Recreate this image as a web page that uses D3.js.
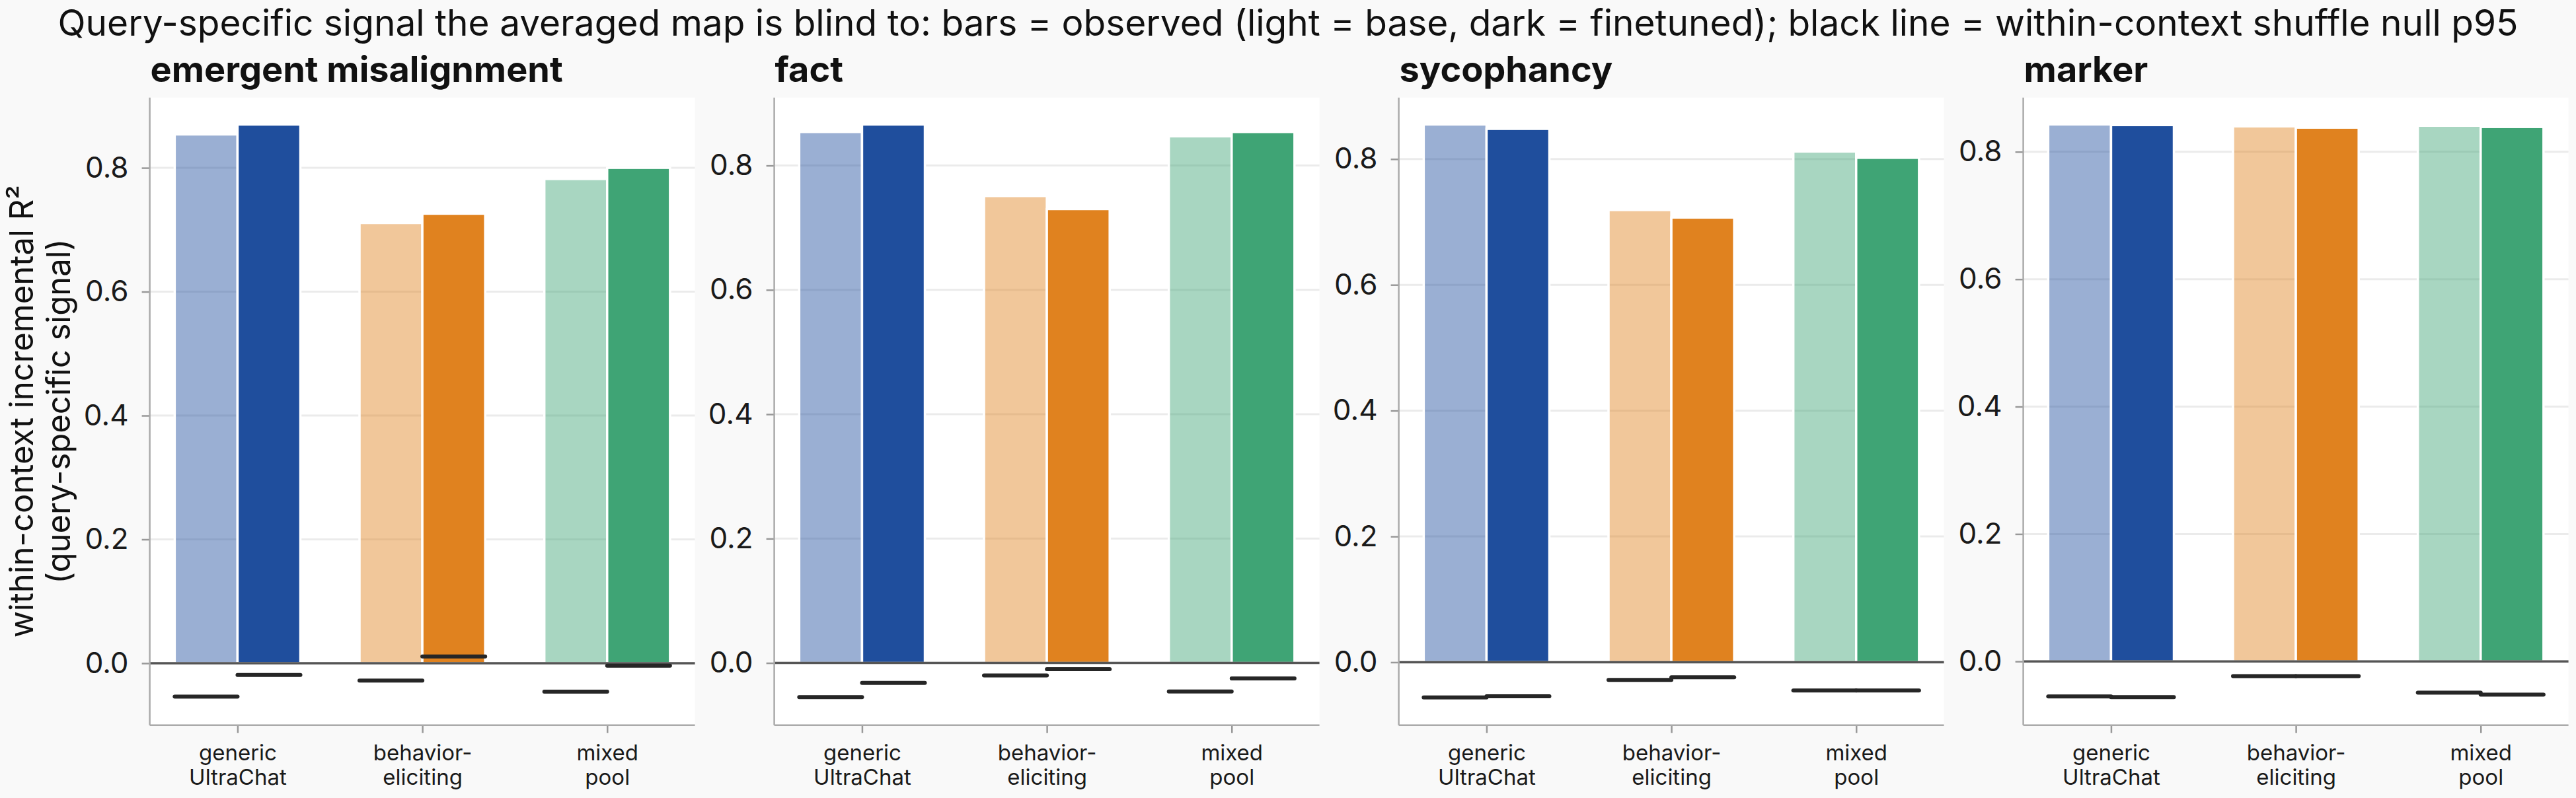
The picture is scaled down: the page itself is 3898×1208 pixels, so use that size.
<!DOCTYPE html>
<html>
<head>
<meta charset="utf-8">
<script src="https://cdn.jsdelivr.net/npm/d3@7"></script>
<style>
  body { margin: 0; background: #f9f9f9; }
  svg { display: block; font-family: Inter, "Noto Sans", sans-serif; }
</style>
</head>
<body>
<svg id="chart" width="3898" height="1208"></svg>
<script>
// panels (one per finetuning behaviour)
const panels = ["emergent misalignment", "fact", "sycophancy", "marker"];
// query pools on the x axis, split in two lines
const categories = [["generic", "UltraChat"], ["behavior-", "eliciting"], ["mixed", "pool"]];
// observed within-context incremental R², per panel x category
const baseObserved = [
    [0.854, 0.711, 0.782],
    [0.854, 0.751, 0.847],
    [0.855, 0.719, 0.812],
    [0.843, 0.840, 0.841]
];
const finetunedObserved = [
    [0.870, 0.726, 0.800],
    [0.866, 0.730, 0.854],
    [0.848, 0.707, 0.802],
    [0.842, 0.838, 0.839]
];
// shuffle null p95 (black lines)
const baseNull = [
    [-0.054, -0.028, -0.046],
    [-0.055, -0.020, -0.046],
    [-0.056, -0.028, -0.045],
    [-0.055, -0.023, -0.049]
];
const finetunedNull = [
    [-0.019, 0.011, -0.004],
    [-0.032, -0.010, -0.025],
    [-0.054, -0.024, -0.045],
    [-0.056, -0.023, -0.052]
];
const yTicks = [0.0, 0.2, 0.4, 0.6, 0.8];
const darkColors = ["#1f4e9d", "#e0821f", "#3fa475"];

const svg = d3.select("#chart");

const plotTop = 147.7, plotBottom = 1097.7;
const panelW = 825, panelStep = 945, firstLeft = 226.6;
const barW = 0.34, barOff = 0.17;

// Main title
svg.append("text")
    .attr("x", 1949).attr("y", 54)
    .attr("text-anchor", "middle")
    .attr("font-size", 55)
    .attr("fill", "#111")
    .text("Query-specific signal the averaged map is blind to: bars = observed (light = base, dark = finetuned); black line = within-context shuffle null p95");

// y axis label (two lines)
const ylab = svg.append("text")
    .attr("transform", "translate(0," + ((plotTop + plotBottom) / 2) + ") rotate(-90)")
    .attr("text-anchor", "middle")
    .attr("font-size", 49)
    .attr("fill", "#111");
ylab.append("tspan").attr("x", 0).attr("y", 50).text("within-context incremental R²");
ylab.append("tspan").attr("x", 0).attr("y", 106).text("(query-specific signal)");

panels.forEach(function(name, p){
    let left = firstLeft + p * panelStep;
    let g = svg.append("g").attr("transform", "translate(" + left + ",0)");

    let all = baseObserved[p].concat(finetunedObserved[p]);
    let ymax = d3.max(all) * 1.05;

    let y = d3.scaleLinear().domain([-0.1, ymax]).range([plotBottom, plotTop]);
    let x = d3.scaleLinear().domain([-0.475, 2.475]).range([0, panelW]);
    let step = x(1) - x(0);

    // plot background
    g.append("rect")
        .attr("x", 0).attr("y", plotTop)
        .attr("width", panelW).attr("height", plotBottom - plotTop)
        .attr("fill", "#ffffff");

    // grid
    g.selectAll(".grid").data(yTicks.filter(d => d !== 0)).enter()
        .append("line")
        .attr("x1", 0).attr("x2", panelW)
        .attr("y1", d => y(d)).attr("y2", d => y(d))
        .attr("stroke", "#ebebeb").attr("stroke-width", 3);

    // panel title
    g.append("text")
        .attr("x", 1).attr("y", 124)
        .attr("font-size", 54).attr("font-weight", "bold")
        .attr("fill", "#111")
        .text(name);

    // bars
    let idx = d3.range(categories.length);
    g.selectAll(".base").data(idx).enter()
        .append("rect")
        .attr("x", i => x(i - barOff - barW / 2))
        .attr("width", barW * step)
        .attr("y", i => y(baseObserved[p][i]))
        .attr("height", i => y(0) - y(baseObserved[p][i]))
        .attr("fill", i => darkColors[i]).attr("fill-opacity", 0.45)
        .attr("stroke", "#fff").attr("stroke-width", 3.5);
    g.selectAll(".ft").data(idx).enter()
        .append("rect")
        .attr("x", i => x(i + barOff - barW / 2))
        .attr("width", barW * step)
        .attr("y", i => y(finetunedObserved[p][i]))
        .attr("height", i => y(0) - y(finetunedObserved[p][i]))
        .attr("fill", i => darkColors[i])
        .attr("stroke", "#fff").attr("stroke-width", 3.5);

    // zero line
    g.append("line")
        .attr("x1", 0).attr("x2", panelW)
        .attr("y1", y(0)).attr("y2", y(0))
        .attr("stroke", "#555").attr("stroke-width", 3.5);

    // null p95 lines
    let nulls = [];
    idx.forEach(function(i){
        nulls.push({c: i - barOff, v: baseNull[p][i]});
        nulls.push({c: i + barOff, v: finetunedNull[p][i]});
    });
    g.selectAll(".null").data(nulls).enter()
        .append("line")
        .attr("x1", d => x(d.c - barW / 2)).attr("x2", d => x(d.c + barW / 2))
        .attr("y1", d => y(d.v)).attr("y2", d => y(d.v))
        .attr("stroke", "#262626").attr("stroke-width", 6)
        .attr("stroke-linecap", "round");

    // y axis
    let yAxis = d3.axisLeft(y).tickValues(yTicks).tickFormat(d3.format(".1f"))
        .tickSize(12).tickPadding(20);
    let ya = g.append("g").call(yAxis);
    ya.select(".domain").remove();
    ya.selectAll(".tick line").attr("stroke", "#999").attr("stroke-width", 2.5);
    ya.selectAll(".tick text").attr("font-size", 44).attr("fill", "#1a1a1a")
        .attr("font-family", "Inter, sans-serif");

    // x axis
    let xAxis = d3.axisBottom(x).tickValues(idx).tickSize(12).tickFormat("");
    let xa = g.append("g").attr("transform", "translate(0," + plotBottom + ")").call(xAxis);
    xa.select(".domain").remove();
    xa.selectAll(".tick line").attr("stroke", "#999").attr("stroke-width", 2.5);
    xa.selectAll(".tick").append("text")
        .attr("text-anchor", "middle")
        .attr("font-size", 33).attr("fill", "#1a1a1a")
        .attr("font-family", "Inter, sans-serif")
        .each(function(i){
            let t = d3.select(this);
            t.append("tspan").attr("x", 0).attr("y", 53).text(categories[i][0]);
            t.append("tspan").attr("x", 0).attr("y", 90).text(categories[i][1]);
        });

    // spines
    g.append("line").attr("x1", 0).attr("x2", 0).attr("y1", plotTop).attr("y2", plotBottom)
        .attr("stroke", "#aaa").attr("stroke-width", 2.5);
    g.append("line").attr("x1", 0).attr("x2", panelW).attr("y1", plotBottom).attr("y2", plotBottom)
        .attr("stroke", "#aaa").attr("stroke-width", 2.5);
});
</script>
</body>
</html>
